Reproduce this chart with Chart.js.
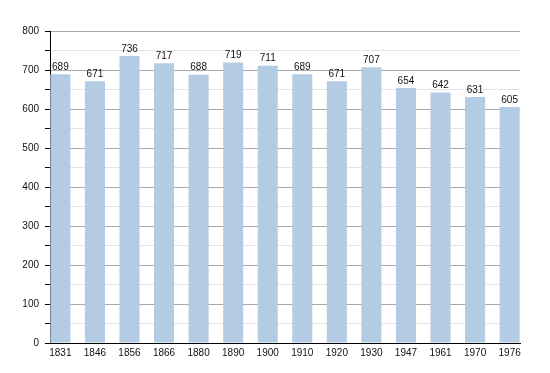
<!DOCTYPE html>
<html>
<head>
<meta charset="utf-8">
<script src="https://cdn.jsdelivr.net/npm/chart.js@4.4.0/dist/chart.umd.min.js"></script>
<style>
  html, body { margin: 0; padding: 0; background: #fff; }
  #wrap { width: 550px; height: 373px; }
</style>
</head>
<body>
<div id="wrap"><canvas id="popChart" width="550" height="373"></canvas></div>
<script>
// population by census year
const years = ['1831', '1846', '1856', '1866', '1880', '1890', '1900', '1910', '1920', '1930', '1947', '1961', '1970', '1976'];
const population = [689, 671, 736, 717, 688, 719, 711, 689, 671, 707, 654, 642, 631, 605];
const yTicks = [0, 100, 200, 300, 400, 500, 600, 700, 800];

const barColor = '#b3cbe3';
const fontFamily = '"Liberation Sans", Arial, sans-serif';

// draw the value above each bar
const valueLabels = {
    id: 'valueLabels',
    afterDatasetsDraw(chart) {
        const ctx = chart.ctx;
        const meta = chart.getDatasetMeta(0);
        ctx.save();
        ctx.font = '10px ' + fontFamily;
        ctx.fillStyle = '#111';
        ctx.textAlign = 'center';
        ctx.textBaseline = 'bottom';
        meta.data.forEach((bar, i) => {
            ctx.fillText(population[i], bar.x, bar.y - 2);
        });
        ctx.restore();
    }
};

document.addEventListener('DOMContentLoaded', function() {
    const ctx = document.getElementById('popChart').getContext('2d');

    new Chart(ctx, {
        type: 'bar',
        data: {
            datasets: [{
                data: population.map((v, i) => ({ x: i, y: v })),
                backgroundColor: barColor,
                borderWidth: 0,
                categoryPercentage: 0.58,
                barPercentage: 1
            }]
        },
        options: {
            responsive: false,
            animation: false,
            layout: {
                padding: { top: 31, right: 30, bottom: 0, left: 0 }
            },
            plugins: {
                legend: { display: false },
                tooltip: { enabled: false }
            },
            scales: {
                x: {
                    type: 'linear',
                    offset: false,
                    min: -0.3,
                    max: 13.3,
                    afterBuildTicks: function(scale) {
                        scale.ticks = years.map((y, i) => ({ value: i }));
                    },
                    afterFit: function(scale) {
                        scale.height = 30;
                    },
                    grid: { display: false, tickLength: 0 },
                    border: { display: true, color: '#000', width: 1 },
                    ticks: {
                        color: '#111',
                        font: { size: 10, family: fontFamily },
                        padding: 4,
                        maxRotation: 0,
                        autoSkip: false,
                        callback: function(value) {
                            return years[value];
                        }
                    }
                },
                y: {
                    min: 0,
                    max: 800,
                    afterFit: function(scale) {
                        scale.width = 50;
                    },
                    grid: {
                        color: function(c) {
                            return c.tick.value % 100 === 0 ? '#a8a8a8' : '#e4e4e4';
                        },
                        tickColor: '#000',
                        tickLength: 5
                    },
                    border: { display: true, color: '#000', width: 1 },
                    ticks: {
                        stepSize: 50,
                        color: '#111',
                        padding: 6,
                        font: { size: 10, family: fontFamily },
                        callback: function(value) {
                            return yTicks.includes(value) ? String(value) : '';
                        }
                    }
                }
            }
        },
        plugins: [valueLabels]
    });
});
</script>
</body>
</html>
